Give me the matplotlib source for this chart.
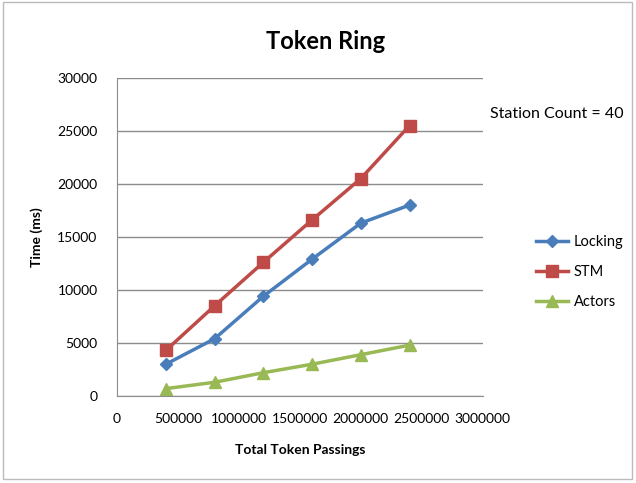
import matplotlib.pyplot as plt
from matplotlib.patches import Rectangle

plt.rcParams['font.family'] = ['Lato', 'DejaVu Sans']

# token passings per run
passings = [400000, 800000, 1200000, 1600000, 2000000, 2400000]

# elapsed time (ms) for each implementation
locking = [3000, 5400, 9400, 12900, 16300, 18000]
stm = [4300, 8500, 12600, 16600, 20500, 25500]
actors = [700, 1300, 2200, 3000, 3900, 4800]

x_ticks = [0, 500000, 1000000, 1500000, 2000000, 2500000, 3000000]
y_ticks = [0, 5000, 10000, 15000, 20000, 25000, 30000]

fig = plt.figure(figsize=(6.36, 4.83), dpi=100)
ax = fig.add_axes([0.184, 0.180, 0.575, 0.659])

ax.plot(passings, locking, color='#4A7EBB', marker='D', markersize=6,
        linewidth=2.5, label='Locking')
ax.plot(passings, stm, color='#BE4B48', marker='s', markersize=9,
        linewidth=2.5, label='STM')
ax.plot(passings, actors, color='#98B954', marker='^', markersize=8,
        linewidth=2.5, label='Actors')

ax.set_xlim(0, 3000000)
ax.set_ylim(0, 30000)
ax.set_xticks(x_ticks)
ax.set_xticklabels([str(t) for t in x_ticks])
ax.set_yticks(y_ticks)
ax.set_yticklabels([str(t) for t in y_ticks])
ax.tick_params(labelsize=10, length=0, pad=12)
ax.tick_params(axis='y', pad=14)

ax.grid(axis='y', color='#8C8C8C', linewidth=1)
ax.set_axisbelow(True)
for side in ['top', 'right']:
    ax.spines[side].set_visible(False)
for side in ['left', 'bottom']:
    ax.spines[side].set_color('#8C8C8C')

ax.set_xlabel('Total Token Passings', fontsize=10, fontweight='bold', labelpad=14)
ax.set_ylabel('Time (ms)', fontsize=10, fontweight='bold', labelpad=10)
fig.text(0.512, 0.915, 'Token Ring', fontsize=17, fontweight='bold', ha='center', va='center')
fig.text(0.77, 0.765, 'Station Count = 40', fontsize=11.5, ha='left', va='center')

ax.legend(loc='center left', bbox_to_anchor=(1.13, 0.39), frameon=False,
          fontsize=10.5, handlelength=2.2, labelspacing=1.1, borderaxespad=0,
          handletextpad=0.4)

# chart border
fig.patches.append(Rectangle((0.004, 0.008), 0.99, 0.988, transform=fig.transFigure,
                             fill=False, edgecolor='#BBBBBB', linewidth=1))

fig.savefig('out.png', dpi=100)
